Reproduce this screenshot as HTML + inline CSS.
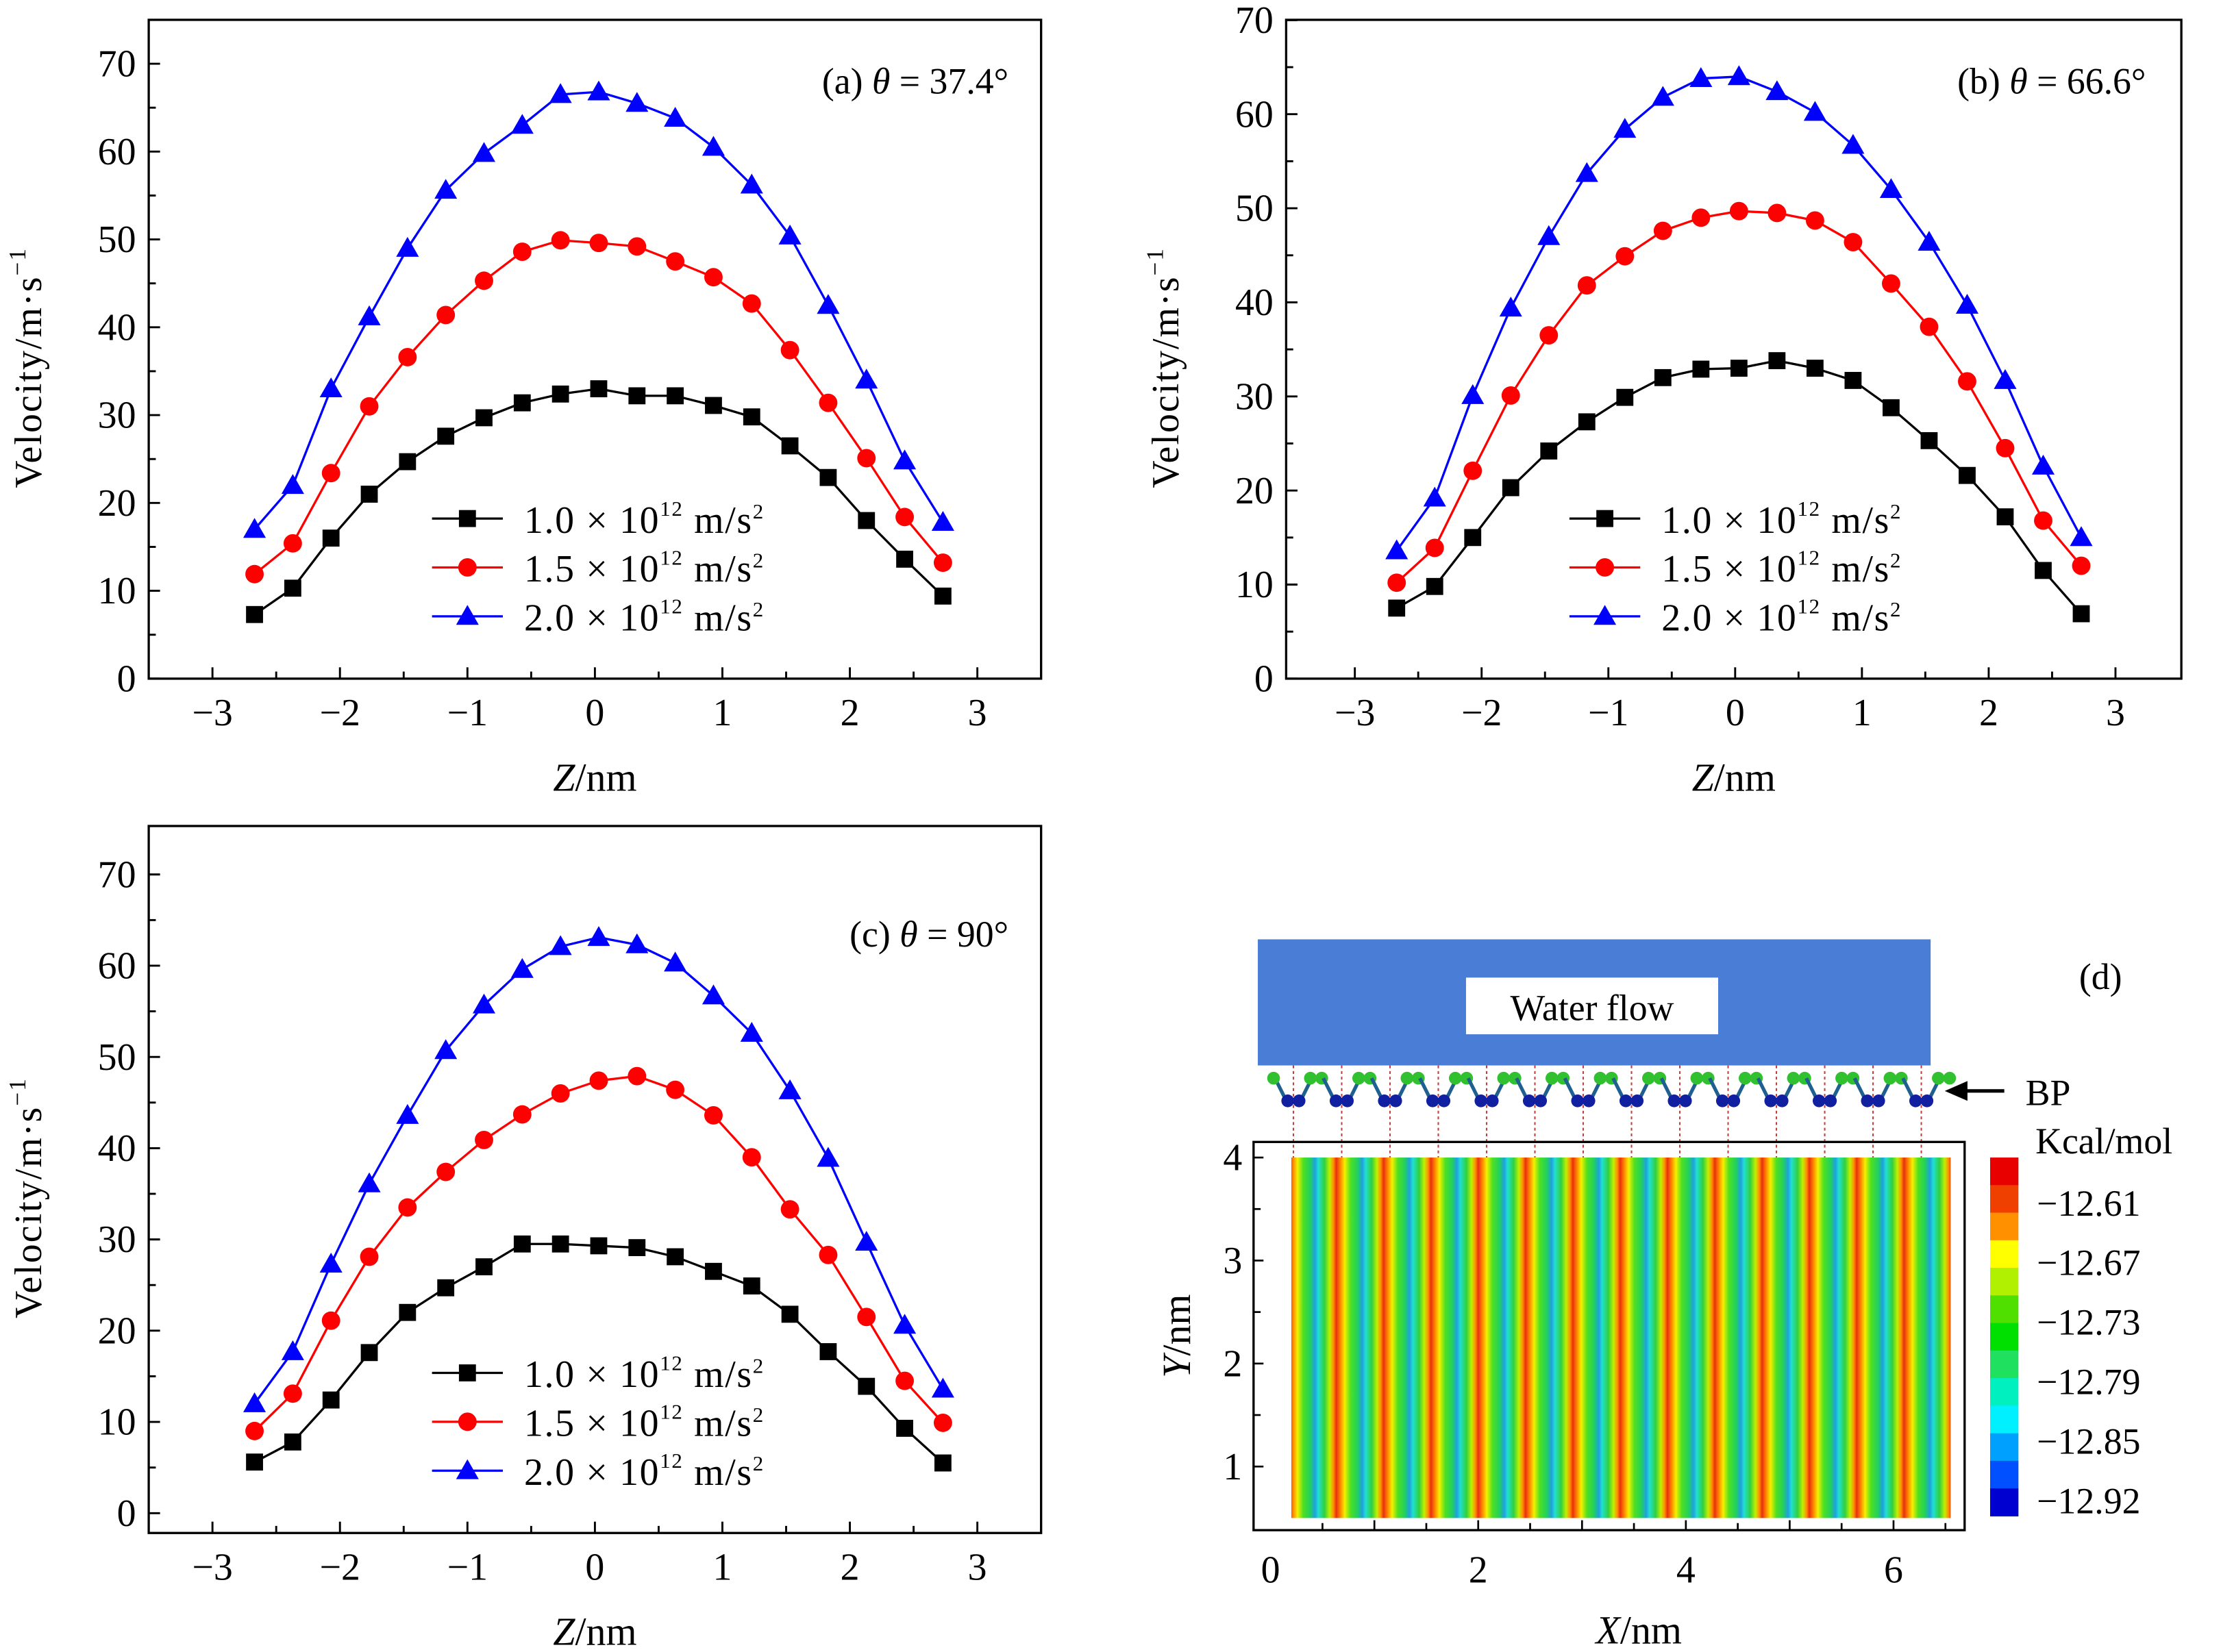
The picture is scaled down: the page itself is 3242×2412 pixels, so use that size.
<!DOCTYPE html>
<html><head><meta charset="utf-8"><style>
html,body{margin:0;padding:0;background:#fff}
svg{display:block}
text{font-family:"Liberation Serif",serif;fill:#000}
</style></head><body>
<svg id="fig" xmlns="http://www.w3.org/2000/svg" width="3242" height="2412" viewBox="0 0 1568 1166" preserveAspectRatio="none">
<defs>
<linearGradient id="stripe" gradientUnits="userSpaceOnUse" x1="910" y1="0" x2="943.4" y2="0" spreadMethod="repeat">
<stop offset="0" stop-color="#e83010"/>
<stop offset="0.08" stop-color="#ff8000"/>
<stop offset="0.18" stop-color="#f4f000"/>
<stop offset="0.3" stop-color="#50e020"/>
<stop offset="0.45" stop-color="#20d060"/>
<stop offset="0.55" stop-color="#20a0e0"/>
<stop offset="0.62" stop-color="#20e0d0"/>
<stop offset="0.75" stop-color="#30d040"/>
<stop offset="0.86" stop-color="#c0f000"/>
<stop offset="0.94" stop-color="#ff9000"/>
<stop offset="1" stop-color="#e83010"/>
</linearGradient>
</defs>
<g id="root"></g>
</svg>
<script>
// ---- data ----
const zValues=[-2.67,-2.37,-2.07,-1.77,-1.47,-1.17,-0.87,-0.57,-0.27,0.03,0.33,0.63,0.93,1.23,1.53,1.83,2.13,2.43,2.73];
const seriesLabels=["1.0","1.5","2.0"];
const aBlack=[7.3,10.3,16,21,24.7,27.6,29.7,31.4,32.4,33,32.2,32.2,31.1,29.8,26.5,22.9,18,13.6,9.4];
const aRed=[11.9,15.4,23.4,31,36.6,41.4,45.3,48.6,49.9,49.6,49.2,47.5,45.7,42.7,37.4,31.4,25.1,18.4,13.2];
const aBlue=[17,22,33,41.2,49,55.6,59.8,63,66.5,66.8,65.5,63.8,60.5,56.2,50.4,42.5,34,24.8,17.8];
const bBlack=[7.5,9.8,15,20.3,24.2,27.3,29.9,32,32.9,33,33.8,33,31.7,28.8,25.3,21.6,17.2,11.5,6.9];
const bRed=[10.2,13.9,22.1,30.1,36.5,41.8,44.9,47.6,49,49.7,49.5,48.7,46.4,42,37.4,31.6,24.5,16.8,12];
const bBlue=[13.6,19.2,30.1,39.4,47,53.7,58.4,61.8,63.8,64,62.4,60.2,56.7,52,46.4,39.7,31.7,22.6,15];
const cBlack=[5.6,7.8,12.4,17.6,22,24.7,27,29.5,29.5,29.3,29.1,28.1,26.5,24.9,21.8,17.7,13.9,9.3,5.5];
const cRed=[9,13.1,21.1,28.1,33.5,37.4,40.9,43.7,46,47.4,47.9,46.4,43.6,39,33.3,28.3,21.5,14.5,9.9];
const cBlue=[12,17.7,27.3,36.1,43.6,50.7,55.7,59.6,62.1,63.1,62.3,60.3,56.7,52.6,46.3,38.9,29.7,20.6,13.6];
const xTicks=[-3,-2,-1,0,1,2,3];
const yTicks=[0,10,20,30,40,50,60,70];
const cbLabels=["\u221212.61","\u221212.67","\u221212.73","\u221212.79","\u221212.85","\u221212.92"];
const cbColors=["#e80000","#f04000","#ff9000","#ffff00","#b0f000","#50e000","#00e000","#20e060","#00f0c0","#00f0ff","#00a0ff","#0050ff","#0000d0"];
const dXTicks=[0,2,4,6];
const dYTicks=[1,2,3,4];

const NS="http://www.w3.org/2000/svg";
const root=document.getElementById('root');
function mk(tag,attrs,parent,txt){const e=document.createElementNS(NS,tag);for(const k in attrs)e.setAttribute(k,attrs[k]);if(txt!==undefined)e.textContent=txt;(parent||root).appendChild(e);return e;}

function panel(p){
  const g=mk('g',{});
  
  
  const sx=v=>p.x0+(v-p.xmin)*p.xs, sy=v=>p.y0-v*p.ys;
  const fr=mk('rect',{x:p.L,y:p.T,width:p.R-p.L,height:p.B-p.T,fill:'none',stroke:'#000','stroke-width':1.6},g);
  
  
  for(let v=-3;v<=3.01;v+=0.5){const X=sx(v);const maj=Math.abs(v-Math.round(v))<0.01;
    mk('line',{x1:X,x2:X,y1:p.B,y2:p.B-(maj?8:5),stroke:'#000','stroke-width':1.4},g);}
  xTicks.forEach(v=>{const t=mk('text',{x:sx(v),y:p.B+33,'font-size':27,'text-anchor':'middle'},g,(v<0?'\u2212':'')+Math.abs(v));
    });
  for(let v=0;v<=70;v+=5){const Y=sy(v);if(Y<p.T)continue;const maj=v%10===0;
    mk('line',{x1:p.L,x2:p.L+(maj?8:5),y1:Y,y2:Y,stroke:'#000','stroke-width':1.4},g);}
  yTicks.forEach(v=>{const t=mk('text',{x:p.L-9,y:sy(v)+9,'font-size':27,'text-anchor':'end'},g,String(v));
    });
  const yt=mk('text',{x:0,y:0,'font-size':27,'text-anchor':'middle','letter-spacing':1,transform:`translate(${p.L-76},${(p.T+p.B)/2+13}) rotate(-90)`},g);
  
  yt.innerHTML='Velocity/m·s<tspan font-size="17" dy="-11">\u22121</tspan>';
  const xt=mk('text',{x:(p.L+p.R)/2,y:p.B+79,'font-size':28,'text-anchor':'middle'},g);
  
  xt.innerHTML='<tspan font-style="italic">Z</tspan>/nm';
  const lb=mk('text',{x:p.labX,y:p.labY,'font-size':26,'text-anchor':'end'},g);
  
  lb.innerHTML=p.label;
  const colors=['#000','#f00','#00f'];
  p.series.forEach((arr,si)=>{
    const pts=arr.map((v,i)=>sx(zValues[i])+','+sy(v)).join(' ');
    const pl=mk('polyline',{points:pts,fill:'none',stroke:colors[si],'stroke-width':1.6},g);
    
    
    arr.forEach((v,i)=>{const m=marker(si,sx(zValues[i]),sy(v),g);
      
      });
    const ly=p.legY+si*34.5;
    const lg=mk('g',{},g);
    
    
    mk('line',{x1:p.legX,x2:p.legX+50,y1:ly,y2:ly,stroke:colors[si],'stroke-width':1.6},lg);
    marker(si,p.legX+25,ly,lg);
    const tt=mk('text',{x:p.legX+65,y:ly+10,'font-size':27,'letter-spacing':0.8},lg);
    tt.innerHTML=seriesLabels[si]+' \u00d7 10<tspan font-size="15" dy="-12">12</tspan><tspan dy="12"> m/s</tspan><tspan font-size="15" dy="-10">2</tspan>';
  });
}
function marker(si,x,y,g){
  if(si===0)return mk('rect',{x:x-6,y:y-6,width:12,height:12,fill:'#000'},g);
  if(si===1)return mk('circle',{cx:x,cy:y,r:6.5,fill:'#f00'},g);
  return mk('polygon',{points:`${x},${y-8} ${x-8},${y+6} ${x+8},${y+6}`,fill:'#00f'},g);
}
panel({id:'a',L:105,R:735,T:14,B:479,x0:420,xmin:0,xs:90,y0:479,ys:6.2,series:[aBlack,aRed,aBlue],
  label:'(a) <tspan font-style="italic">θ</tspan> = 37.4°',labX:712,labY:66,legX:305,legY:366});
panel({id:'b',L:908,R:1540,T:14,B:479,x0:1225,xmin:0,xs:89.5,y0:479,ys:6.64,series:[bBlack,bRed,bBlue],
  label:'(b) <tspan font-style="italic">θ</tspan> = 66.6°',labX:1515,labY:66,legX:1108,legY:366});
panel({id:'c',L:105,R:735,T:583,B:1082,x0:420,xmin:0,xs:90,y0:1068,ys:6.44,series:[cBlack,cRed,cBlue],
  label:'(c) <tspan font-style="italic">θ</tspan> = 90°',labX:712,labY:668,legX:305,legY:969});

// ---- panel d ----
const gd=mk('g',{});


const dx=v=>897+v*73.3, dy=v=>817+(4-v)*72.7;
const wb=mk('rect',{x:888,y:663,width:475,height:89,fill:'#4a7ed6'},gd);

mk('rect',{x:1035,y:690,width:178,height:40,fill:'#fff'},gd);
const wt=mk('text',{x:1124,y:720,'font-size':26,'text-anchor':'middle'},gd,'Water flow');

// BP molecule row
const mol=mk('g',{},gd);

for(let i=0;i<14;i++){const x=dx(0.22)+i*34.1;
  mk('line',{x1:x,x2:x,y1:752,y2:817,stroke:'#c04040','stroke-width':1,'stroke-dasharray':'2,2'},mol);
  mk('path',{d:`M${x-13},761 L${x-5},777 L${x},777 L${x+5},777 L${x+13},761`,stroke:'#206090','stroke-width':2.5,fill:'none'},mol);
  mk('circle',{cx:x-4,cy:777,r:4.5,fill:'#1020a0'},mol);mk('circle',{cx:x+4,cy:777,r:4.5,fill:'#1020a0'},mol);
  mk('circle',{cx:x+12,cy:761,r:4.5,fill:'#30c030'},mol);mk('circle',{cx:x+20,cy:761,r:4.5,fill:'#30c030'},mol);
}
mk('circle',{cx:dx(0.22)-14,cy:761,r:4.5,fill:'#30c030'},mol);
const ar=mk('g',{},gd);
mk('line',{x1:1385,x2:1415,y1:770,y2:770,stroke:'#000','stroke-width':2.5},ar);
mk('polygon',{points:'1373,770 1389,763 1389,777',fill:'#000'},ar);
mk('text',{x:1430,y:780,'font-size':26},ar,'BP');
// heatmap
const hm=mk('rect',{x:dx(0.2),y:dy(4),width:dx(6.55)-dx(0.2),height:dy(0.5)-dy(4),fill:'url(#stripe)'},gd);

const df=mk('rect',{x:885,y:806,width:502,height:274,fill:'none',stroke:'#000','stroke-width':1.6},gd);

for(let v=0.5;v<=6.51;v+=0.5){mk('line',{x1:dx(v),x2:dx(v),y1:1080,y2:1080-(v%1===0?7:5),stroke:'#000','stroke-width':1.3},gd);}
for(let v=1;v<=4;v+=0.5){mk('line',{x1:885,x2:885+(v%1===0?7:5),y1:dy(v),y2:dy(v),stroke:'#000','stroke-width':1.3},gd);}
dXTicks.forEach(v=>{const t=mk('text',{x:dx(v),y:1117,'font-size':27,'text-anchor':'middle'},gd,String(v));
  });
dYTicks.forEach(v=>{const t=mk('text',{x:877,y:dy(v)+9,'font-size':27,'text-anchor':'end'},gd,String(v));
  });
const dxt=mk('text',{x:1157,y:1160,'font-size':28,'text-anchor':'middle'},gd);

dxt.innerHTML='<tspan font-style="italic">X</tspan>/nm';
const dyt=mk('text',{x:0,y:0,'font-size':28,'text-anchor':'middle',transform:'translate(840,943) rotate(-90)'},gd);

dyt.innerHTML='<tspan font-style="italic">Y</tspan>/nm';
const dl=mk('text',{x:1483,y:698,'font-size':26,'text-anchor':'middle'},gd,'(d)');

// colorbar
const cb=mk('g',{},gd);
const bh=(1070-817)/cbColors.length;
cbColors.forEach((c,i)=>{mk('rect',{x:1405,y:817+i*bh,width:20,height:bh+0.3,fill:c},cb);});
cbLabels.forEach((s,i)=>{mk('text',{x:1438,y:858+i*42,'font-size':26},cb,s);});
mk('text',{x:1437,y:814,'font-size':26},cb,'Kcal/mol');
</script>
</body></html>
